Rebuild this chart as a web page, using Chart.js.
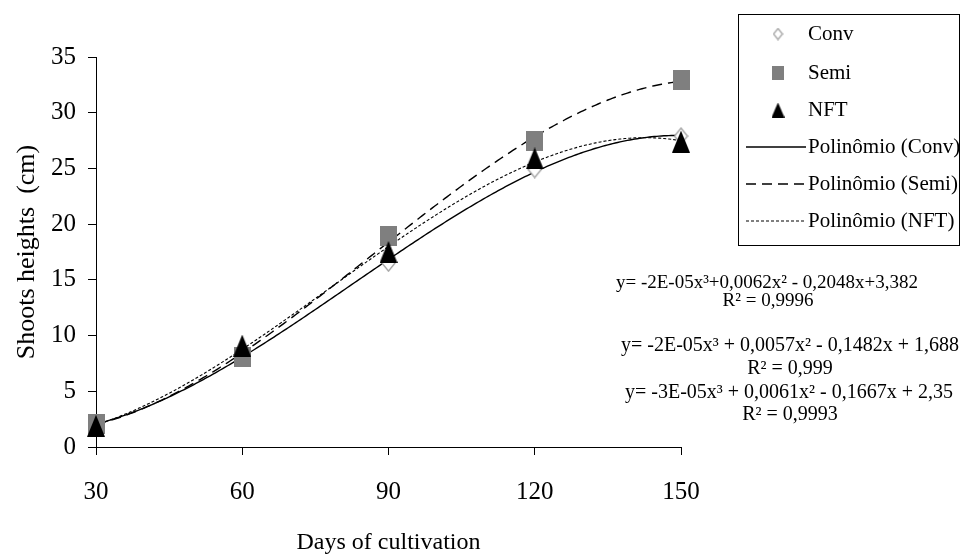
<!DOCTYPE html>
<html><head><meta charset="utf-8">
<script src="https://cdn.jsdelivr.net/npm/chart.js@4.4.1/dist/chart.umd.min.js"></script>
<style>html,body{margin:0;padding:0;background:#fff;}#wrap{width:962px;height:554px;}</style>
</head><body><div id="wrap"><canvas id="c" width="962" height="554"></canvas></div>
<script>
const days = [30, 60, 90, 120, 150];
const conv = [2.0, 8.3, 16.5, 24.9, 27.9];
const semi = [2.1, 8.1, 18.9, 27.5, 32.9];
const nft  = [1.9, 9.1, 17.5, 25.9, 27.4];
const xTicks = [30, 60, 90, 120, 150];
const yTicks = [0, 5, 10, 15, 20, 25, 30, 35];
const seriesNames = ['Conv', 'Semi', 'NFT'];
const trendNames = ['Polinômio (Conv)', 'Polinômio (Semi)', 'Polinômio (NFT)'];
const equations = ['y= -2E-05x³+0,0062x² - 0,2048x+3,382', 'y= -2E-05x³ + 0,0057x² - 0,1482x + 1,688', 'y= -3E-05x³ + 0,0061x² - 0,1667x + 2,35'];
const r2Labels = ['R² = 0,9996', 'R² = 0,999', 'R² = 0,9993'];
const xTitle = 'Days of cultivation';
const yTitle = 'Shoots heights  (cm)';

const FONT = "'Liberation Serif', 'Times New Roman', serif";
function pts(arr){ return days.map((d,i)=>({x:d, y:arr[i]})); }

// least-squares cubic trendline fitted to the data (as the spreadsheet's polynomial trendline)
function cubicFit(xs, ys){
  const n=4, A=[], b=[];
  const t = xs.map(x=>(x-90)/30);
  for(let r=0;r<n;r++){ A.push([]); for(let c=0;c<n;c++){ let s=0; t.forEach(v=>s+=Math.pow(v,r+c)); A[r].push(s);} let sb=0; t.forEach((v,i)=>sb+=Math.pow(v,r)*ys[i]); b.push(sb); }
  for(let i=0;i<n;i++){ let p=i; for(let k=i+1;k<n;k++) if(Math.abs(A[k][i])>Math.abs(A[p][i])) p=k; [A[i],A[p]]=[A[p],A[i]]; [b[i],b[p]]=[b[p],b[i]];
    for(let k=i+1;k<n;k++){ const f=A[k][i]/A[i][i]; for(let c=i;c<n;c++) A[k][c]-=f*A[i][c]; b[k]-=f*b[i]; } }
  const co=new Array(n).fill(0);
  for(let i=n-1;i>=0;i--){ let s=b[i]; for(let c=i+1;c<n;c++) s-=A[i][c]*co[c]; co[i]=s/A[i][i]; }
  return x=>{ const v=(x-90)/30; return co[0]+co[1]*v+co[2]*v*v+co[3]*v*v*v; };
}

function mk(w,h,draw){ const c=document.createElement('canvas'); c.width=w; c.height=h; draw(c.getContext('2d'),w,h); return c; }
const diamondImg = mk(15,18,(g,w,h)=>{g.beginPath();g.moveTo(w/2,1);g.lineTo(w-1,h/2);g.lineTo(w/2,h-1);g.lineTo(1,h/2);g.closePath();g.fillStyle='#fff';g.fill();g.strokeStyle='#a0a0a0';g.lineWidth=1.3;g.stroke();});
const squareImg = mk(17,20,(g,w,h)=>{g.fillStyle='#7f7f7f';g.fillRect(0,0,w,h);});
const triImg = mk(18,22,(g,w,h)=>{g.beginPath();g.moveTo(w/2,0);g.lineTo(w,h);g.lineTo(0,h);g.closePath();g.fillStyle='#000';g.fill();});
const diamondSm = mk(11,13,(g,w,h)=>{g.beginPath();g.moveTo(w/2,1);g.lineTo(w-1,h/2);g.lineTo(w/2,h-1);g.lineTo(1,h/2);g.closePath();g.fillStyle='#fff';g.fill();g.strokeStyle='#a0a0a0';g.lineWidth=1.2;g.stroke();});
const squareSm = mk(12,14,(g,w,h)=>{g.fillStyle='#7f7f7f';g.fillRect(0,0,w,h);});
const triSm = mk(13,15,(g,w,h)=>{g.beginPath();g.moveTo(w/2,0);g.lineTo(w,h);g.lineTo(0,h);g.closePath();g.fillStyle='#000';g.fill();});

const dashes = [[], [10,6], [3,2]];
const lineWidths = [1.4, 1.4, 1.1];
const seriesData = [conv, semi, nft];
const markerImgs = [diamondImg, squareImg, triImg];
const legendImgs = [diamondSm, squareSm, triSm];
const fits = seriesData.map(arr=>cubicFit(days, arr));

const datasets = [];
seriesData.forEach((arr,i)=>{
  datasets.push({label: seriesNames[i], data: pts(arr), showLine:false, pointStyle: markerImgs[i], pointRadius: 9, borderColor:'#000', backgroundColor:'#000', order: 3-i, clip:false});
});

const extras = {
  id:'extras',
  beforeDraw(chart){ const c=chart.ctx; c.save(); c.fillStyle='#fff'; c.fillRect(0,0,chart.width,chart.height); c.restore(); },
  beforeDatasetsDraw(chart){
    const c=chart.ctx, xs=chart.scales.x, ys=chart.scales.y;
    c.save(); c.strokeStyle='#000';
    for(let i=2;i>=0;i--){
      c.beginPath(); c.setLineDash(dashes[i]); c.lineWidth=lineWidths[i];
      for(let x=days[0]; x<=days[days.length-1]; x+=0.5){
        const px=xs.getPixelForValue(x), py=ys.getPixelForValue(fits[i](x));
        if(x===days[0]) c.moveTo(px,py); else c.lineTo(px,py);
      }
      c.stroke();
    }
    c.restore();
  },
  afterDraw(chart){
    const c = chart.ctx;
    c.save();
    c.strokeStyle='#000'; c.lineWidth=1;
    c.strokeRect(738.5, 14.5, 221, 231);
    const rows = [34, 73, 110, 147, 184, 221];
    c.font = '21px ' + FONT; c.fillStyle='#000'; c.textBaseline='middle'; c.textAlign='left';
    for(let i=0;i<3;i++){
      const im = legendImgs[i];
      c.drawImage(im, 778-im.width/2, rows[i]-im.height/2);
      c.fillText(seriesNames[i], 808, rows[i]);
    }
    for(let i=0;i<3;i++){
      const y = rows[i+3];
      c.beginPath(); c.setLineDash(dashes[i]); c.lineWidth = lineWidths[i];
      c.moveTo(746, y); c.lineTo(806, y); c.stroke();
      c.setLineDash([]);
      c.fillText(trendNames[i], 808, y);
    }
    c.textAlign='center';
    const eqPos = [[767,283,19],[790,346,20],[789,393,20]];
    const r2Pos = [[768,301,19],[790,369,20],[790,415,20]];
    for(let i=0;i<3;i++){
      c.font = eqPos[i][2]+'px '+FONT; c.fillText(equations[i], eqPos[i][0], eqPos[i][1]);
      c.font = r2Pos[i][2]+'px '+FONT; c.fillText(r2Labels[i], r2Pos[i][0], r2Pos[i][1]);
    }
    c.restore();
  }
};

new Chart(document.getElementById('c'), {
  type:'line',
  data:{datasets},
  options:{
    responsive:false, animation:false,
    layout:{padding:{top:57, right:281, left:0, bottom:0}},
    plugins:{legend:{display:false}, tooltip:{enabled:false}},
    scales:{
      x:{type:'linear', min:30, max:150,
        afterBuildTicks: s=>{ s.ticks = xTicks.map(v=>({value:v})); },
        afterFit: s=>{ s.height = 107; },
        grid:{drawOnChartArea:false, drawTicks:true, tickLength:8, color:'#000', lineWidth:1},
        border:{color:'#000', width:1},
        ticks:{color:'#000', font:{family:FONT, size:25}, padding:22, maxRotation:0, autoSkip:false},
        title:{display:true, text:xTitle, color:'#000', font:{family:FONT, size:24, lineHeight:1}, padding:{top:0, bottom:-1}}
      },
      y:{type:'linear', min:0, max:35,
        afterBuildTicks: s=>{ s.ticks = yTicks.map(v=>({value:v})); },
        afterFit: s=>{ s.width = 96; },
        grid:{drawOnChartArea:false, drawTicks:true, tickLength:8, color:'#000', lineWidth:1},
        border:{color:'#000', width:1},
        ticks:{color:'#000', font:{family:FONT, size:25}, padding:12, autoSkip:false},
        title:{display:true, text:yTitle, color:'#000', font:{family:FONT, size:26, lineHeight:1}, padding:{top:14, bottom:0}}
      }
    }
  },
  plugins:[extras]
});
</script></body></html>
